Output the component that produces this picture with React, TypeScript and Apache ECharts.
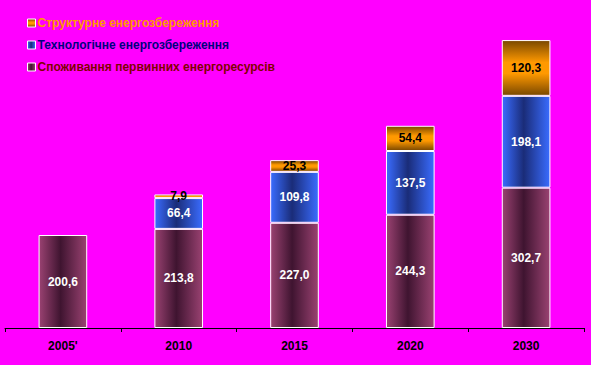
import React, { useEffect, useRef } from "react";
import * as echarts from "echarts";

const categories = ["2005'", "2010", "2015", "2020", "2030"];
const consumption = [200.6, 213.8, 227.0, 244.3, 302.7];
const technological = [null, 66.4, 109.8, 137.5, 198.1];
const structural = [null, 7.9, 25.3, 54.4, 120.3];

const nameStruct = "Структурне енергозбереження";
const nameTech = "Технологічне енергозбереження";
const nameCons = "Споживання первинних енергоресурсів";

const fmt = (v: number) => v.toFixed(1).replace(".", ",");

export default function App() {
  const ref = useRef<HTMLDivElement>(null);
  useEffect(() => {
    const chart = echarts.init(ref.current!, null, { renderer: "svg" });
    const purple = new echarts.graphic.LinearGradient(0, 0, 1, 0, [
      { offset: 0, color: "#9A4272" },
      { offset: 0.45, color: "#3F1430" },
      { offset: 1, color: "#9A4272" },
    ]);
    const blue = new echarts.graphic.LinearGradient(0, 0, 1, 0, [
      { offset: 0, color: "#3A6CFF" },
      { offset: 0.45, color: "#1A2C78" },
      { offset: 1, color: "#3A6CFF" },
    ]);
    const orange = new echarts.graphic.LinearGradient(0, 0, 0, 1, [
      { offset: 0, color: "#7A4800" },
      { offset: 0.4, color: "#FF9900" },
      { offset: 0.6, color: "#FF9900" },
      { offset: 1, color: "#7A4800" },
    ]);
    const labelStyle = (color: string) => ({
      show: true,
      position: "inside" as const,
      color,
      fontFamily: "Liberation Sans, Arial, sans-serif",
      fontWeight: "bold" as const,
      fontSize: 12,
      formatter: (p: any) => (p.value == null ? "" : fmt(p.value)),
    });
    chart.setOption({
      animation: false,
      backgroundColor: "#FF00FF",
      legend: {
        orient: "vertical",
        left: 27,
        top: 17,
        padding: 0,
        itemWidth: 8,
        itemHeight: 8,
        itemGap: 10,
        data: [
          { name: nameStruct, textStyle: { color: "#FF9900" } },
          { name: nameTech, textStyle: { color: "#000080" } },
          { name: nameCons, textStyle: { color: "#800000" } },
        ],
        textStyle: {
          fontFamily: "Liberation Sans, Arial, sans-serif",
          fontWeight: "bold",
          fontSize: 12,
          padding: [0, 0, 0, -3],
        },
        itemStyle: { borderColor: "#FFFFFF", borderWidth: 1 },
        icon: "rect",
      },
      grid: { left: 5, right: 7, bottom: 37, top: 3.5 },
      xAxis: {
        type: "category",
        data: categories,
        axisLine: { lineStyle: { color: "#000000", width: 1 } },
        axisTick: { show: true, length: 4, lineStyle: { color: "#000000" } },
        axisLabel: {
          color: "#000000",
          fontFamily: "Liberation Sans, Arial, sans-serif",
          fontWeight: "bold",
          fontSize: 12,
          margin: 12,
        },
      },
      yAxis: {
        type: "value",
        min: 0,
        max: 700,
        show: false,
        splitLine: { show: false },
      },
      series: [
        {
          name: nameCons,
          type: "bar",
          stack: "a",
          barWidth: "42%",
          data: consumption,
          itemStyle: { color: purple, borderColor: "#FFFFFF", borderWidth: 1 },
          label: labelStyle("#FFFFFF"),
        },
        {
          name: nameTech,
          type: "bar",
          stack: "a",
          data: technological,
          itemStyle: { color: blue, borderColor: "#FFFFFF", borderWidth: 1 },
          label: labelStyle("#FFFFFF"),
        },
        {
          name: nameStruct,
          type: "bar",
          stack: "a",
          data: structural,
          itemStyle: { color: orange, borderColor: "#FFFFFF", borderWidth: 1 },
          label: labelStyle("#000000"),
        },
      ],
    });
    return () => chart.dispose();
  }, []);
  return <div ref={ref} style={{ width: 591, height: 365, position: "absolute", left: 0, top: 0 }} />;
}
